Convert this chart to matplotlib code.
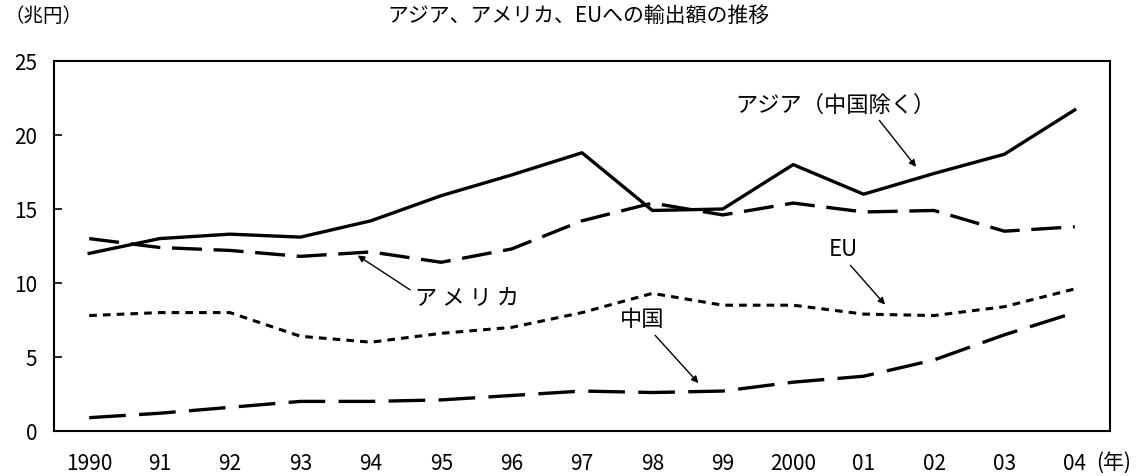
import matplotlib.pyplot as plt

plt.rcParams['font.family'] = ['Noto Sans CJK JP', 'DejaVu Sans']

years = list(range(1990, 2005))
year_labels = ["1990", "91", "92", "93", "94", "95", "96", "97", "98", "99",
               "2000", "01", "02", "03", "04"]

asia = [12.0, 13.0, 13.3, 13.1, 14.2, 15.9, 17.3, 18.8, 14.9, 15.0, 18.0, 16.0, 17.4, 18.7, 21.7]
america = [13.0, 12.4, 12.2, 11.8, 12.1, 11.4, 12.3, 14.2, 15.4, 14.6, 15.4, 14.8, 14.9, 13.5, 13.8]
eu = [7.8, 8.0, 8.0, 6.4, 6.0, 6.6, 7.0, 8.0, 9.3, 8.5, 8.5, 7.9, 7.8, 8.4, 9.6]
china = [0.9, 1.2, 1.6, 2.0, 2.0, 2.1, 2.4, 2.7, 2.6, 2.7, 3.3, 3.7, 4.8, 6.5, 8.0]

fig = plt.figure(figsize=(11.41, 4.77), dpi=100)
ax = fig.add_axes([54 / 1141, 1 - 432 / 477, (1110 - 54) / 1141, (432 - 62) / 477])

ax.plot(years, asia, color="black", lw=2.4)
ax.plot(years, america, color="black", lw=2.4, dashes=(9, 3.5))
ax.plot(years, eu, color="black", lw=2.2, dashes=(2.5, 2))
ax.plot(years, china, color="black", lw=2.4, dashes=(11, 4))

ax.set_xlim(1989.5, 2004.5)
ax.set_ylim(0, 25)
ax.set_yticks([0, 5, 10, 15, 20, 25])
ax.set_xticks(years)
ax.set_xticklabels(year_labels)
ax.tick_params(axis="y", direction="in", length=6, width=1.2, labelsize=15, pad=12)
ax.tick_params(axis="x", length=0, labelsize=15, pad=15)
for s in ax.spines.values():
    s.set_linewidth(1.5)

fig.text(5 / 1141, 1 - 16 / 477, "（兆円）", fontsize=14, va="center", ha="left")
fig.text(578 / 1141, 1 - 16 / 477, "アジア、アメリカ、EUへの輸出額の推移", fontsize=15,
         va="center", ha="center")
fig.text(1096 / 1141, 1 - 463 / 477, "(年)", fontsize=15, va="center", ha="left")

ax.annotate("アジア（中国除く）", xy=(2001.77, 17.7), xytext=(2000.6, 22.1),
            fontsize=16, ha="center", va="center",
            arrowprops=dict(arrowstyle="-|>", color="black", lw=1, mutation_scale=10,
                            relpos=(0.7, 0.0)))
ax.annotate("ア メ リ カ", xy=(1993.78, 11.96), xytext=(1995.37, 9.0),
            fontsize=16, ha="center", va="center",
            arrowprops=dict(arrowstyle="-|>", color="black", lw=1, mutation_scale=10,
                            relpos=(0.0, 0.7)))
ax.annotate("EU", xy=(2001.33, 8.4), xytext=(2000.71, 12.3),
            fontsize=16, ha="center", va="center",
            arrowprops=dict(arrowstyle="-|>", color="black", lw=1, mutation_scale=10,
                            relpos=(0.6, 0.0)))
ax.annotate("中国", xy=(1998.68, 3.1), xytext=(1997.85, 7.57),
            fontsize=16, ha="center", va="center",
            arrowprops=dict(arrowstyle="-|>", color="black", lw=1, mutation_scale=10,
                            relpos=(0.7, 0.0)))

fig.savefig("out.png", dpi=100)
